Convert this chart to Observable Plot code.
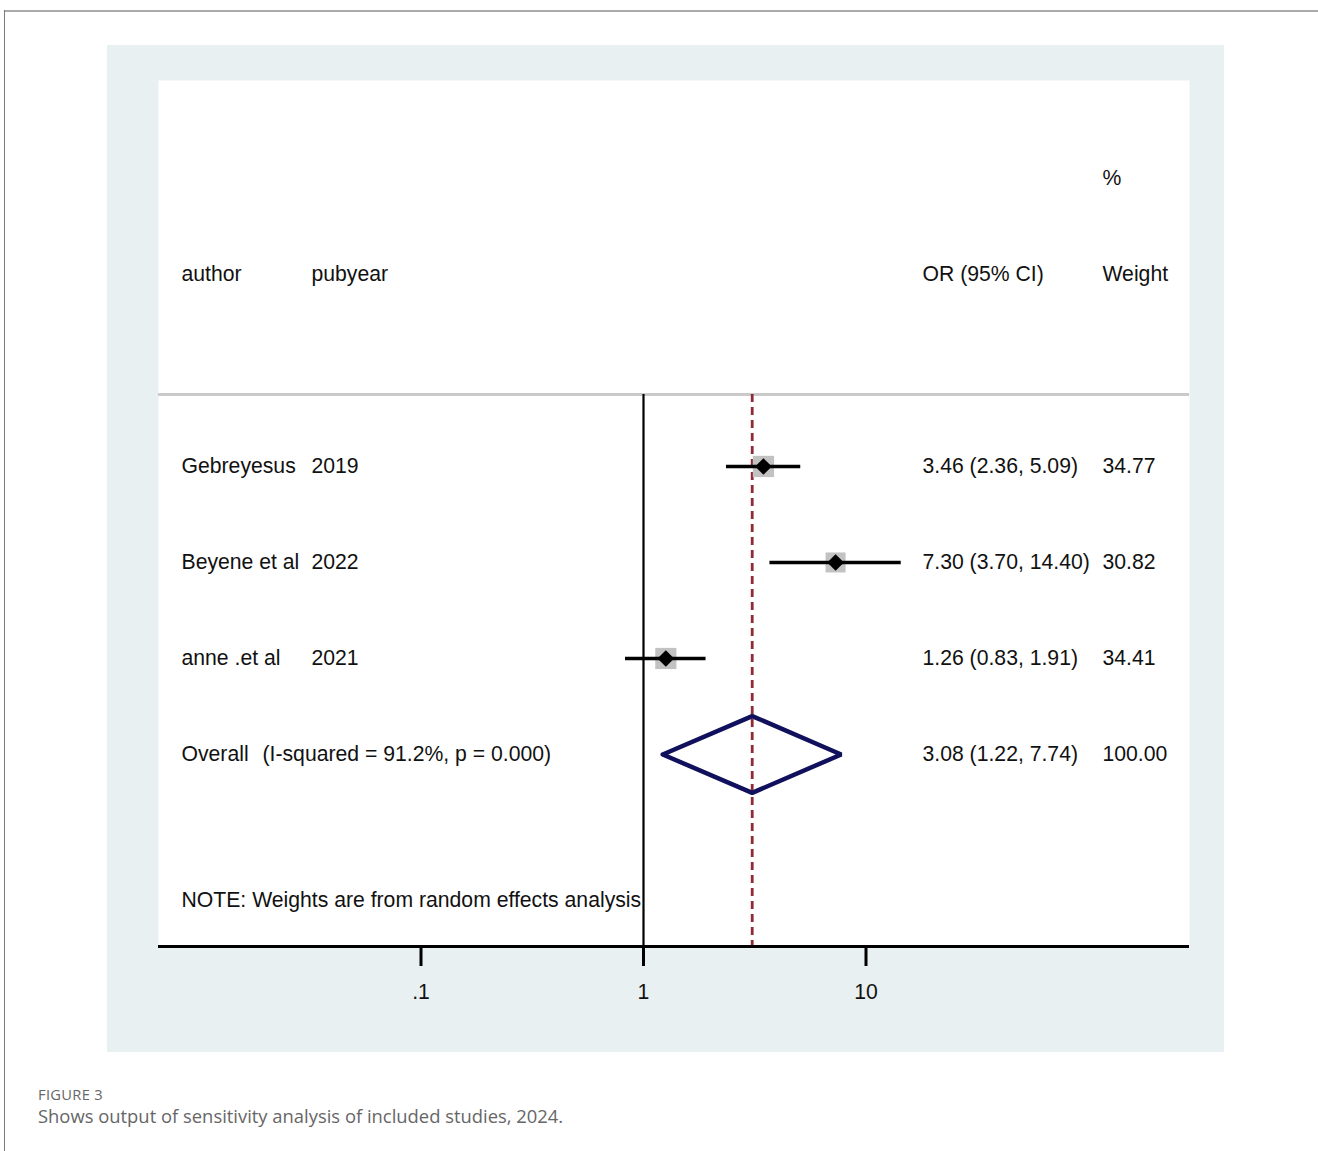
<!DOCTYPE html>
<html>
<head>
<meta charset="utf-8">
<script src="https://cdn.jsdelivr.net/npm/d3@7"></script>
<script src="https://cdn.jsdelivr.net/npm/@observablehq/plot@0.6"></script>
<style>
  html, body { margin: 0; padding: 0; background: #fff; }
  body { width: 1318px; height: 1151px; position: relative; overflow: hidden; }
  #frame-top { position: absolute; left: 4px; top: 10px; right: 0; height: 0; border-top: 2px solid #aaaaaa; }
  #frame-left { position: absolute; left: 4px; top: 10px; bottom: 0; width: 0; border-left: 1.5px solid #7a7a7a; }
  #panel { position: absolute; left: 107px; top: 45px; width: 1117px; height: 1007px; background: #e9f0f2; }
  #panel svg { display: block; }
  #fig-label { position: absolute; left: 38px; top: 1084px; font-family: "Open Sans", sans-serif; font-size: 14.7px; color: #666; letter-spacing: 0.3px; }
  #fig-caption { position: absolute; left: 38px; top: 1103px; font-family: "Open Sans", sans-serif; font-size: 18.4px; color: #666; }
</style>
</head>
<body>
<div id="frame-top"></div>
<div id="frame-left"></div>
<div id="panel"></div>
<div id="fig-label">FIGURE 3</div>
<div id="fig-caption">Shows output of sensitivity analysis of included studies, 2024.</div>
<script>
// Study-level results (odds ratios with 95% CI and random-effects weights)
const authors = ["Gebreyesus", "Beyene et al", "anne .et al"];
const pubyears = ["2019", "2022", "2021"];
const orValues = [3.46, 7.30, 1.26];
const ciLower = [2.36, 3.70, 0.83];
const ciUpper = [5.09, 14.40, 1.91];
const weights = [34.77, 30.82, 34.41];

// Pooled estimate
const overallLabel = "Overall";
const overallStats = "(I-squared = 91.2%, p = 0.000)";
const overallOR = 3.08;
const overallLower = 1.22;
const overallUpper = 7.74;
const overallWeight = 100.00;

const noteText = "NOTE: Weights are from random effects analysis";
const xTicks = [0.1, 1, 10];
const xTickLabels = [".1", "1", "10"];

const fmt = (v) => v.toFixed(2);

const studies = authors.map((a, i) => ({
  author: a,
  year: pubyears[i],
  or: orValues[i],
  lo: ciLower[i],
  hi: ciUpper[i],
  weight: weights[i],
  row: i,
  orText: `${fmt(orValues[i])} (${fmt(ciLower[i])}, ${fmt(ciUpper[i])})`,
  wText: fmt(weights[i])
}));

const overallRow = studies.length;
const overall = {
  or: overallOR, lo: overallLower, hi: overallUpper, row: overallRow,
  orText: `${fmt(overallOR)} (${fmt(overallLower)}, ${fmt(overallUpper)})`,
  wText: fmt(overallWeight)
};

// Diamond outline for the pooled estimate
const half = 0.4;
const diamond = [
  {x: overall.lo, y: overallRow},
  {x: overall.or, y: overallRow - half},
  {x: overall.hi, y: overallRow},
  {x: overall.or, y: overallRow + half},
  {x: overall.lo, y: overallRow}
];

// Row layout (in row units)
const headerRow = -2;
const percentRow = -3;
const sepRow = -0.75;
const noteRow = 4.52;
const axisRow = 5;

// Column offsets from the left edge of the plot area
const col = {author: 23, year: 153, or: 764, weight: 944};
const txt = {frameAnchor: "left", textAnchor: "start", fontSize: 21.2, fill: "#111"};

const decade = 222.5;
const plotW = 1031;
const onePos = 485;

const chart = Plot.plot({
  width: 1117,
  height: 1007,
  marginLeft: 51,
  marginRight: 35,
  marginTop: 35,
  marginBottom: 106,
  style: {fontFamily: "'Liberation Sans', Arial, Helvetica, sans-serif", fontSize: "21px", background: "transparent", overflow: "visible"},
  x: {type: "log", domain: [Math.pow(10, -onePos / decade), Math.pow(10, (plotW - onePos) / decade)], axis: null},
  y: {domain: [-4.02, 5], reverse: true, axis: null},
  r: {type: "sqrt", domain: [0, d3.max(weights)], range: [0, 12]},
  marks: [
    Plot.frame({fill: "white", stroke: "none"}),
    // header
    Plot.text(["%"], {...txt, y: () => percentRow, text: (d) => d, dx: col.weight}),
    Plot.text(["author"], {...txt, y: () => headerRow, text: (d) => d, dx: col.author}),
    Plot.text(["pubyear"], {...txt, y: () => headerRow, text: (d) => d, dx: col.year}),
    Plot.text(["OR (95% CI)"], {...txt, y: () => headerRow, text: (d) => d, dx: col.or}),
    Plot.text(["Weight"], {...txt, y: () => headerRow, text: (d) => d, dx: col.weight}),
    Plot.ruleY([sepRow], {stroke: "#cacaca", strokeWidth: 3}),
    // reference lines
    Plot.ruleX([1], {y1: sepRow, y2: axisRow, stroke: "#000", strokeWidth: 2.2}),
    Plot.ruleX([overall.or], {y1: sepRow, y2: axisRow, stroke: "#8f2a36", strokeWidth: 2.8, strokeDasharray: "8,5"}),
    // study rows
    Plot.dot(studies, {x: "or", y: "row", r: "weight", symbol: "square", fill: "#c2c2c2", stroke: "none"}),
    Plot.ruleY(studies, {y: "row", x1: "lo", x2: "hi", stroke: "#000", strokeWidth: 3.5}),
    Plot.dot(studies, {x: "or", y: "row", r: 7.5, symbol: "diamond2", fill: "#000", stroke: "none"}),
    Plot.text(studies, {...txt, y: "row", text: "author", dx: col.author}),
    Plot.text(studies, {...txt, y: "row", text: "year", dx: col.year}),
    Plot.text(studies, {...txt, y: "row", text: "orText", dx: col.or}),
    Plot.text(studies, {...txt, y: "row", text: "wText", dx: col.weight}),
    // pooled row
    Plot.line(diamond, {x: "x", y: "y", stroke: "#10105c", strokeWidth: 4.5, strokeLinejoin: "miter"}),
    Plot.text([overall], {...txt, y: "row", text: () => overallLabel, dx: col.author}),
    Plot.text([overall], {...txt, y: "row", text: () => overallStats, dx: 104}),
    Plot.text([overall], {...txt, y: "row", text: "orText", dx: col.or}),
    Plot.text([overall], {...txt, y: "row", text: "wText", dx: col.weight}),
    Plot.text([noteText], {...txt, y: () => noteRow, text: (d) => d, dx: col.author}),
    // x axis
    Plot.ruleY([axisRow], {stroke: "#000", strokeWidth: 3}),
    Plot.axisX({ticks: xTicks, tickFormat: (d) => xTickLabels[xTicks.indexOf(d)], tickSize: 20, tickPadding: 17, strokeWidth: 3, stroke: "#000", fontSize: 21.2, fill: "#111"})
  ]
});

document.getElementById("panel").appendChild(chart);
</script>
</body>
</html>
